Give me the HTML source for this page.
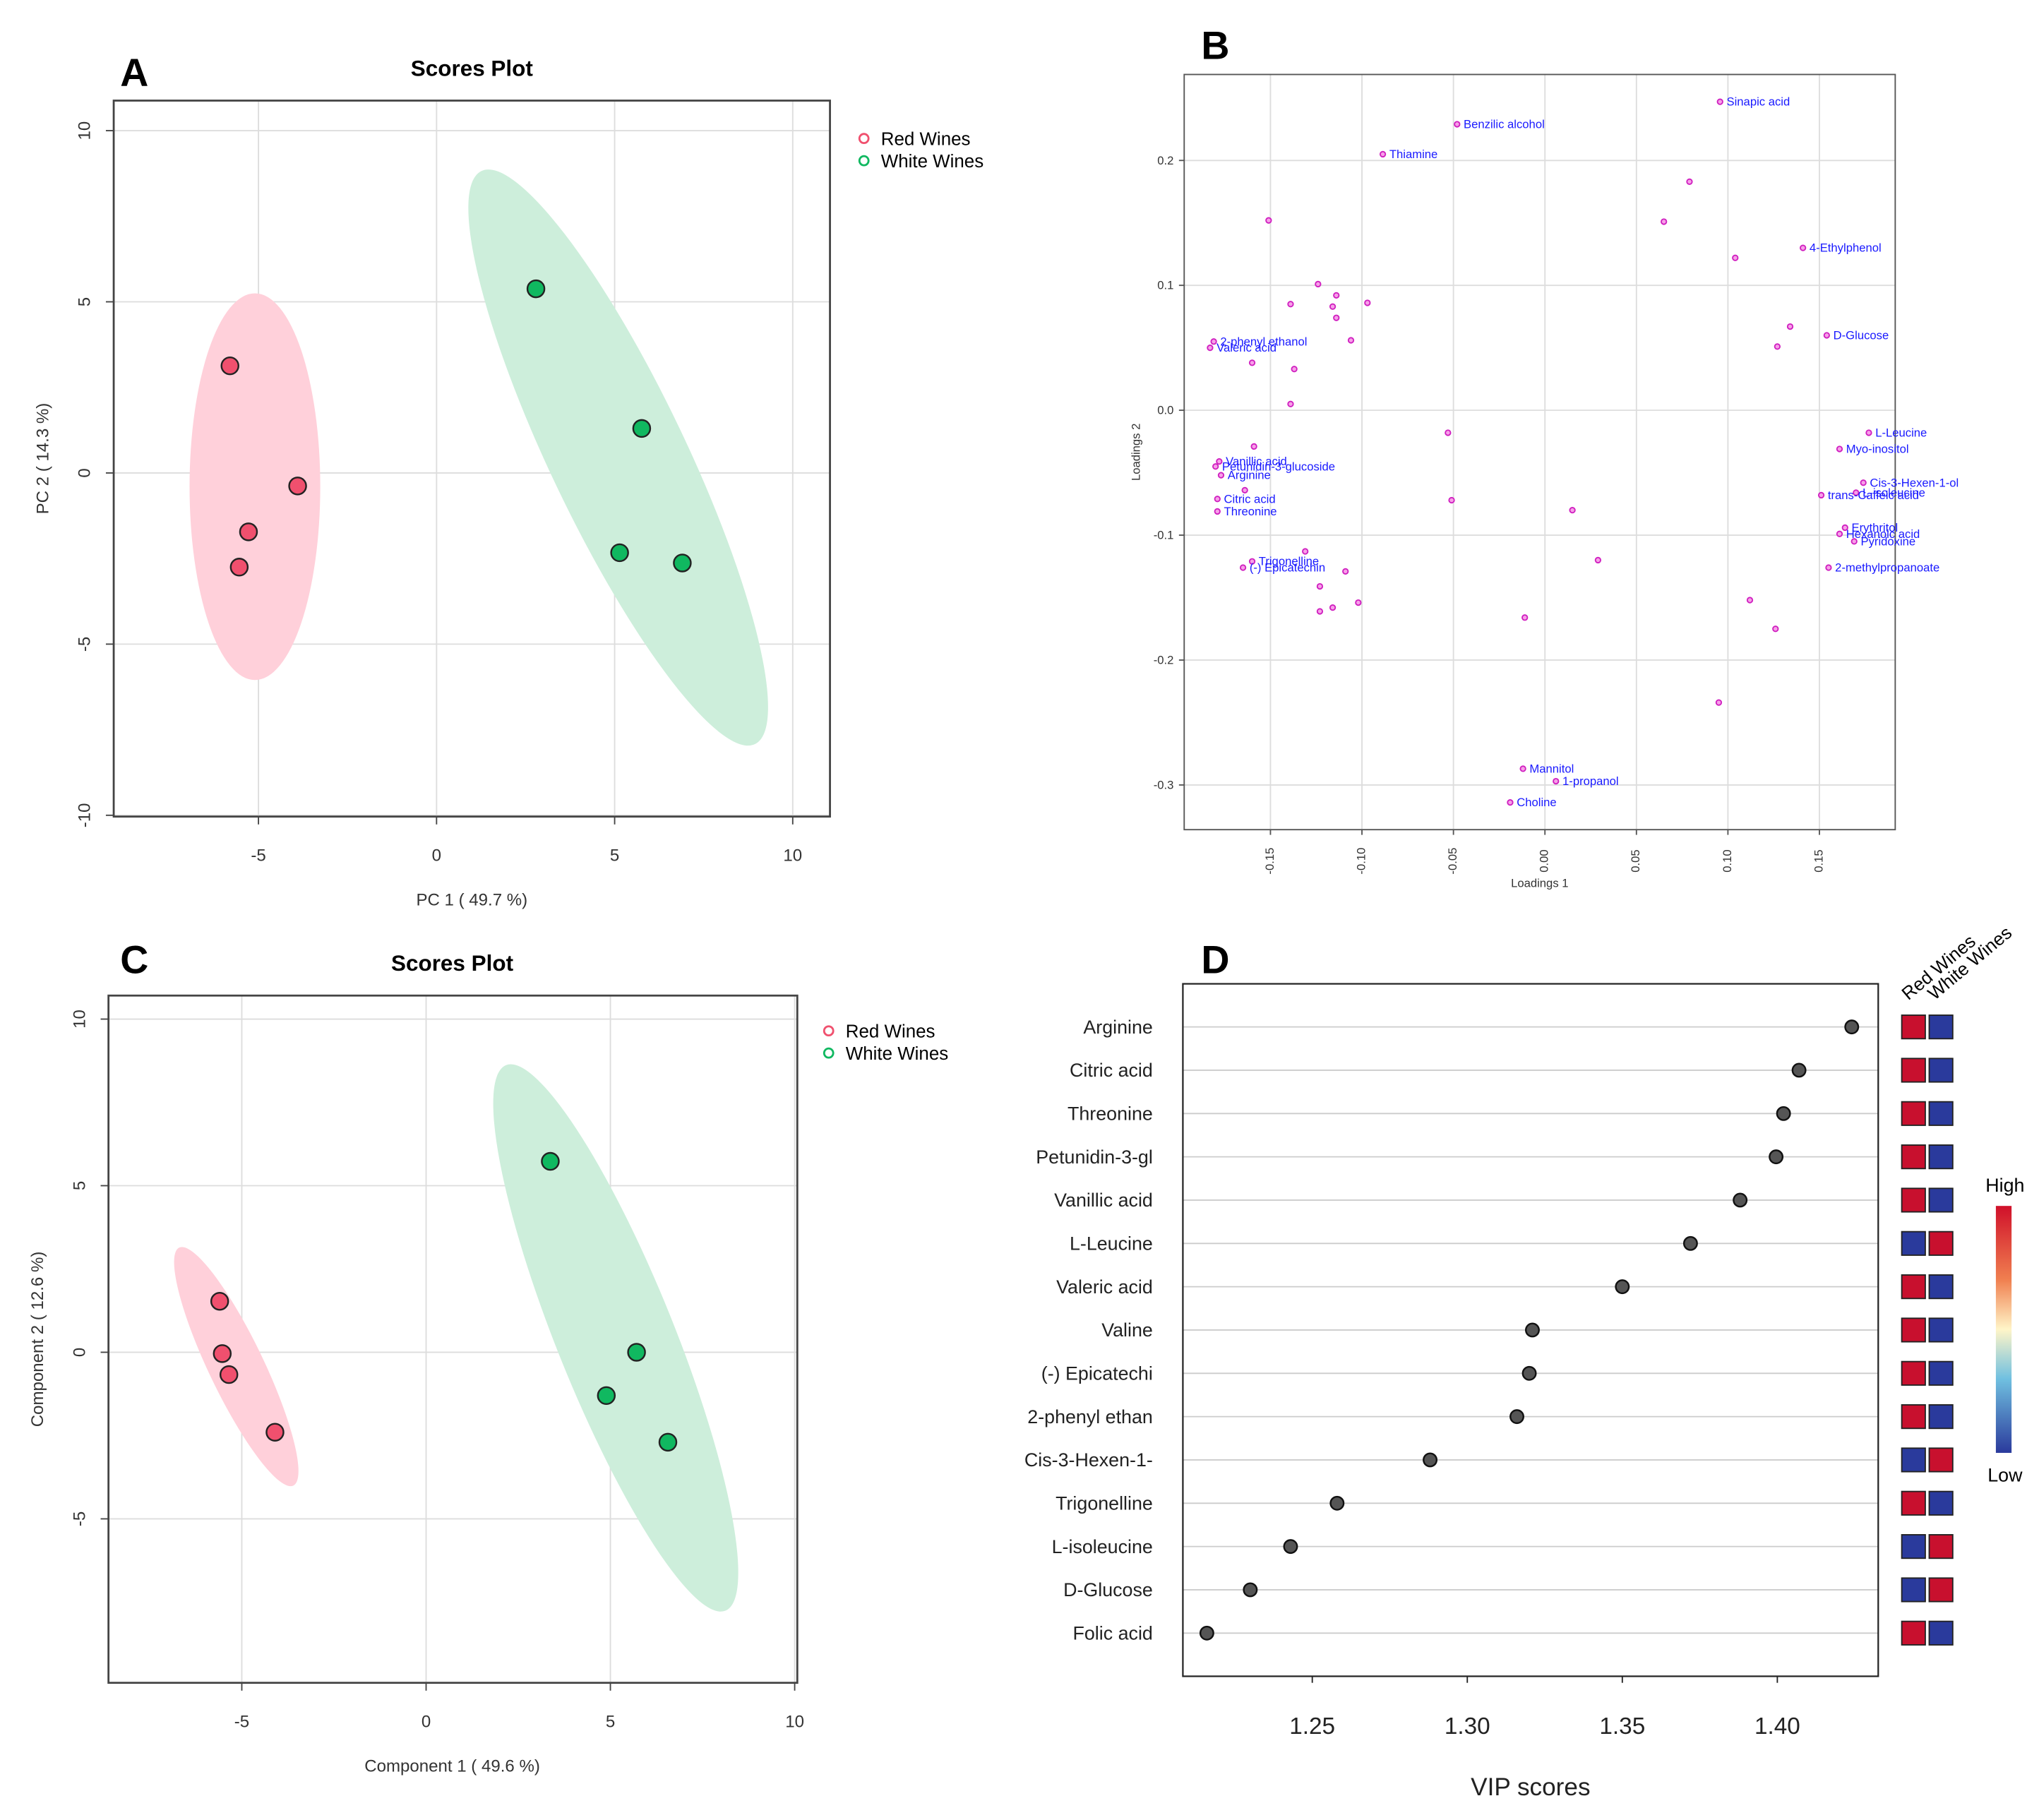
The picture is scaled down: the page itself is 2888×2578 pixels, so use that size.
<!DOCTYPE html>
<html><head><meta charset="utf-8"><style>
html,body{margin:0;padding:0;background:#fff}
svg{display:block;font-family:"Liberation Sans",sans-serif}
</style></head><body>
<svg id="s" width="2888" height="2578" viewBox="0 0 1560 1393" preserveAspectRatio="none" xmlns="http://www.w3.org/2000/svg">
<rect width="1560" height="1393" fill="#fff"/>
<text x="92" y="66" font-size="30" font-weight="bold">A</text>
<text x="919" y="45" font-size="30" font-weight="bold">B</text>
<text x="92" y="745" font-size="30" font-weight="bold">C</text>
<text x="919" y="745" font-size="30" font-weight="bold">D</text>
</svg>
<script>
// Panel A data
const aRedX=[-5.8,-3.9,-5.28,-5.54], aRedY=[3.13,-0.38,-1.72,-2.75];
const aGrnX=[2.79,5.76,5.14,6.9], aGrnY=[5.38,1.30,-2.33,-2.63];
// Panel C data
const cRedX=[-5.6,-5.53,-5.35,-4.1], cRedY=[1.53,-0.04,-0.67,-2.4];
const cGrnX=[3.37,5.71,4.89,6.56], cGrnY=[5.73,0,-1.3,-2.7];
// Panel B loadings
const bNames=["Sinapic acid","Benzilic alcohol","Thiamine","","","","4-Ethylphenol","","","","","","","","","D-Glucose","","","2-phenyl ethanol","Valeric acid","","","","","L-Leucine","","Myo-inositol","Vanillic acid","Petunidin-3-glucoside","Arginine","Cis-3-Hexen-1-ol","L-isoleucine","trans-Caffeic acid","","Citric acid","","Threonine","","Erythritol","Hexanoic acid","Pyridoxine","","Trigonelline","(-) Epicatechin","","","2-methylpropanoate","","","","","","","","","Mannitol","1-propanol","Choline"];
const bX=[.0957,-.048,-.0886,.079,-.151,.065,.141,.104,-.124,-.114,-.139,-.116,-.097,-.114,.134,.154,.127,-.106,-.181,-.183,-.160,-.137,-.139,-.053,.177,-.159,.161,-.178,-.180,-.177,.174,.170,.151,-.164,-.179,-.051,-.179,.015,.164,.161,.169,-.131,-.160,-.165,-.109,.029,.155,-.123,.112,-.102,-.116,-.123,-.011,.126,.095,-.012,.006,-.019];
const bY=[.247,.229,.205,.183,.152,.151,.130,.122,.101,.092,.085,.083,.086,.074,.067,.060,.051,.056,.055,.050,.038,.033,.005,-.018,-.018,-.029,-.031,-.041,-.045,-.052,-.058,-.066,-.068,-.064,-.071,-.072,-.081,-.080,-.094,-.099,-.105,-.113,-.121,-.126,-.129,-.120,-.126,-.141,-.152,-.154,-.158,-.161,-.166,-.175,-.234,-.287,-.297,-.314];
const bXTicks=[-0.15,-0.10,-0.05,0.00,0.05,0.10,0.15], bYTicks=[0.2,0.1,0.0,-0.1,-0.2,-0.3];
// Panel D
const dNames=["Arginine","Citric acid","Threonine","Petunidin-3-gl","Vanillic acid","L-Leucine","Valeric acid","Valine","(-) Epicatechi","2-phenyl ethan","Cis-3-Hexen-1-","Trigonelline","L-isoleucine","D-Glucose","Folic acid"];
const dVip=[1.424,1.407,1.402,1.3996,1.388,1.372,1.350,1.321,1.320,1.316,1.288,1.258,1.243,1.230,1.216];
const dRedHigh=[1,1,1,1,1,0,1,1,1,1,0,1,0,0,1];
const dTicks=[1.25,1.30,1.35,1.40];

const S=document.getElementById('s');const NS="http://www.w3.org/2000/svg";
function mk(t,a,txt){const e=document.createElementNS(NS,t);for(const k in a)e.setAttribute(k,a[k]);if(txt!==undefined)e.textContent=txt;S.appendChild(e);return e;}

function scores(o){
 const sx=v=>o.x0+v*o.kx, sy=v=>o.y0-v*o.ky;
 for(const t of o.xt){let e=mk('line',{x1:sx(t),x2:sx(t),y1:o.top,y2:o.bot,stroke:'#ddd','stroke-width':1});}
 for(const t of o.yt){let e=mk('line',{x1:o.l,x2:o.r,y1:sy(t),y2:sy(t),stroke:'#ddd','stroke-width':1});}
 for(const el of o.ell){let e=mk('ellipse',{cx:sx(el[0]),cy:sy(el[1]),rx:el[2],ry:el[3],fill:el[5],transform:`rotate(${el[4]} ${sx(el[0])} ${sy(el[1])})`});}
 let b=mk('rect',{x:o.l,y:o.top,width:o.r-o.l,height:o.bot-o.top,fill:'none',stroke:'#444','stroke-width':1.5});
 for(const t of o.xt){mk('line',{x1:sx(t),x2:sx(t),y1:o.bot,y2:o.bot+6,stroke:'#444'});let e=mk('text',{x:sx(t),y:o.bot+34,'font-size':13,'text-anchor':'middle',fill:'#333'},String(t));}
 for(const t of o.yt){mk('line',{x1:o.l-6,x2:o.l,y1:sy(t),y2:sy(t),stroke:'#444'});let e=mk('text',{x:o.l-18,y:sy(t),'font-size':13,'text-anchor':'middle',fill:'#333',transform:`rotate(-90 ${o.l-18} ${sy(t)})`},String(t));}
 for(let i=0;i<o.rx.length;i++){let e=mk('circle',{cx:sx(o.rx[i]),cy:sy(o.ry[i]),r:6.5,fill:'#f0506e',stroke:'#222','stroke-width':1.3});}
 for(let i=0;i<o.gx.length;i++){let e=mk('circle',{cx:sx(o.gx[i]),cy:sy(o.gy[i]),r:6.5,fill:'#10b860',stroke:'#222','stroke-width':1.3});}
 let t=mk('text',{x:o.tx,y:o.top-19,'font-size':17,'font-weight':'bold','text-anchor':'middle'},'Scores Plot');
 t=mk('text',{x:o.tx,y:o.bot+68,'font-size':13,'text-anchor':'middle',fill:'#333'},o.xl);
 const yc=(o.top+o.bot)/2;t=mk('text',{x:o.l-50,y:yc,'font-size':13,'text-anchor':'middle',fill:'#333',transform:`rotate(-90 ${o.l-50} ${yc})`},o.yl);
 let c=mk('circle',{cx:o.lx,cy:o.ly,r:3.5,fill:'none',stroke:'#f0506e','stroke-width':1.5});
 t=mk('text',{x:o.lx+13,y:o.ly+5,'font-size':14},'Red Wines');
 c=mk('circle',{cx:o.lx,cy:o.ly+17,r:3.5,fill:'none',stroke:'#10b860','stroke-width':1.5});
 t=mk('text',{x:o.lx+13,y:o.ly+22,'font-size':14},'White Wines');
}
scores({l:87,r:635,top:77,bot:625,x0:334,kx:27.25,y0:362,ky:26.2,xt:[-5,0,5,10],yt:[10,5,0,-5,-10],rx:aRedX,ry:aRedY,gx:aGrnX,gy:aGrnY,
 ell:[[-5.1,-0.4,50,148,0,'#ffd0da','red-ellipse'],[5.1,0.45,52,243,-25.5,'#cdeedb','white-ellipse']],tx:361,xl:'PC 1 ( 49.7 %)',yl:'PC 2 ( 14.3 %)',lx:661,ly:106});
scores({l:83,r:610,top:762,bot:1288,x0:326,kx:28.2,y0:1035,ky:25.5,xt:[-5,0,5,10],yt:[10,5,0,-5],rx:cRedX,ry:cRedY,gx:cGrnX,gy:cGrnY,
 ell:[[-5.15,-0.43,21,101,-25.6,'#ffd0da','red-ellipse'],[5.145,0.43,45,225,-21.9,'#cdeedb','white-ellipse']],tx:346,xl:'Component 1 ( 49.6 %)',yl:'Component 2 ( 12.6 %)',lx:634,ly:789});

// Panel B
(function(){
 const L=906,R=1450,T=57,B=635,sx=v=>1182+v*1400,sy=v=>314-v*956;
 for(const t of bXTicks){let e=mk('line',{x1:sx(t),x2:sx(t),y1:T,y2:B,stroke:'#ddd'});}
 for(const t of bYTicks){let e=mk('line',{x1:L,x2:R,y1:sy(t),y2:sy(t),stroke:'#ddd'});}
 let f=mk('rect',{x:L,y:T,width:R-L,height:B-T,fill:'none',stroke:'#555','stroke-width':1});
 for(const t of bXTicks){const x=sx(t),y=B+24;mk('line',{x1:x,x2:x,y1:B,y2:B+4,stroke:'#555'});let e=mk('text',{x:x,y:y,'font-size':9,'text-anchor':'middle','dominant-baseline':'middle',fill:'#333',transform:`rotate(-90 ${x} ${y})`},t.toFixed(2));}
 for(const t of bYTicks){const y=sy(t);mk('line',{x1:L-4,x2:L,y1:y,y2:y,stroke:'#555'});let e=mk('text',{x:L-8,y:y+3,'font-size':9,'text-anchor':'end',fill:'#333'},t.toFixed(1));}
 let t=mk('text',{x:1178,y:679,'font-size':9,'text-anchor':'middle',fill:'#333'},'Loadings 1');
 t=mk('text',{x:872,y:346,'font-size':9,'text-anchor':'middle',fill:'#333',transform:'rotate(-90 872 346)'},'Loadings 2');
 for(let i=0;i<bX.length;i++){const x=sx(bX[i]),y=sy(bY[i]);
  let c=mk('circle',{cx:x,cy:y,r:2,fill:'#f7a0e8',stroke:'#d01fc0','stroke-width':1});
  if(bNames[i]){let e=mk('text',{x:x+5,y:y+3,'font-size':9,fill:'#1a1aff'},bNames[i]);}}
})();

// Panel D
(function(){
 const L=905,R=1437,T=753,B=1283,sx=v=>1004+(v-1.25)*2372,ry=i=>786+i*33.14;
 for(let i=0;i<dNames.length;i++){let e=mk('line',{x1:L,x2:R,y1:ry(i),y2:ry(i),stroke:'#ccc'});}
 let f=mk('rect',{x:L,y:T,width:R-L,height:B-T,fill:'none',stroke:'#222','stroke-width':1.2});
 for(let i=0;i<dNames.length;i++){
  let t=mk('text',{x:882,y:ry(i)+5,'font-size':14.5,'text-anchor':'end',fill:'#222'},dNames[i]);
  let c=mk('circle',{cx:sx(dVip[i]),cy:ry(i),r:5,fill:'#555',stroke:'#111','stroke-width':1.3});
  const red='#c8102e',blue='#2a3a9c';
  let a=mk('rect',{x:1455,y:ry(i)-9,width:18,height:18,fill:dRedHigh[i]?red:blue,stroke:'#222','stroke-width':1});
  let b=mk('rect',{x:1476,y:ry(i)-9,width:18,height:18,fill:dRedHigh[i]?blue:red,stroke:'#222','stroke-width':1});}
 for(const t of dTicks){mk('line',{x1:sx(t),x2:sx(t),y1:B,y2:B+5,stroke:'#222'});let e=mk('text',{x:sx(t),y:B+44,'font-size':18,'text-anchor':'middle',fill:'#222'},t.toFixed(2));}
 let t=mk('text',{x:1171,y:1374,'font-size':19,'text-anchor':'middle',fill:'#222'},'VIP scores');
 t=mk('text',{x:1460,y:766,'font-size':14,transform:'rotate(-40 1460 766)'},'Red Wines');
 t=mk('text',{x:1480,y:766,'font-size':14,transform:'rotate(-40 1480 766)'},'White Wines');
 const d=mk('defs',{});d.innerHTML='<linearGradient id="cg" x1="0" y1="0" x2="0" y2="1"><stop offset="0" stop-color="#d0102a"/><stop offset="0.3" stop-color="#f08050"/><stop offset="0.5" stop-color="#fff5c8"/><stop offset="0.7" stop-color="#70c0e0"/><stop offset="1" stop-color="#2a3a9c"/></linearGradient>';
 let cb=mk('rect',{x:1527,y:923,width:12,height:189,fill:'url(#cg)'});
 t=mk('text',{x:1534,y:912,'font-size':14.5,'text-anchor':'middle'},'High');
 t=mk('text',{x:1534,y:1134,'font-size':14.5,'text-anchor':'middle'},'Low');
})();
</script>
</body></html>
